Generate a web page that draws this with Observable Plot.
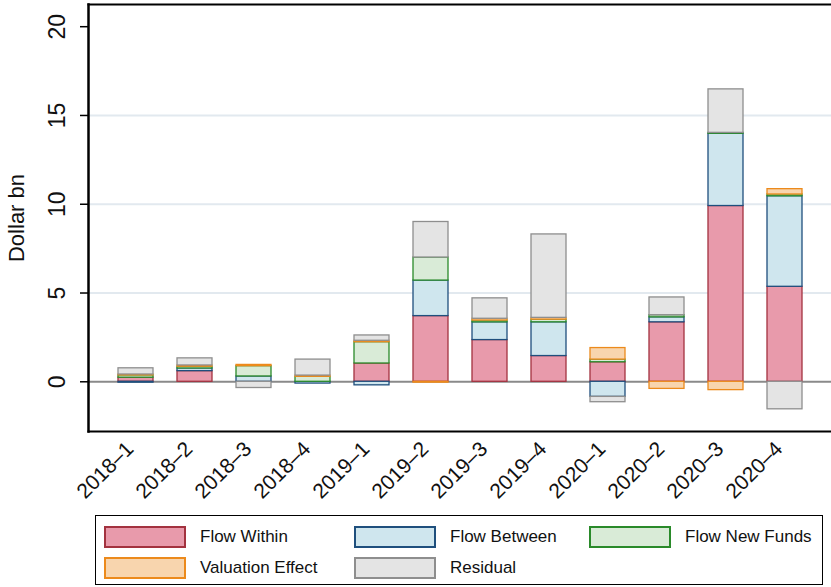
<!DOCTYPE html>
<html>
<head>
<meta charset="utf-8">
<script src="https://cdn.jsdelivr.net/npm/d3@7"></script>
<script src="https://cdn.jsdelivr.net/npm/@observablehq/plot@0.6"></script>
<style>
  body { margin: 0; background: white; font-family: "Liberation Sans", Arial, Helvetica, sans-serif; }
  #wrap { position: relative; width: 831px; height: 587px; }
  #legend { position: absolute; left: 95px; top: 515px; width: 728px; height: 70px; border: 1px solid #000; box-sizing: border-box; }
  .item { position: absolute; display: flex; align-items: center; font-size: 17px; color: #111; }
  .sw { width: 78px; height: 18px; border: 2px solid; margin-right: 14px; }
</style>
</head>
<body>
<div id="wrap"></div>
<script>
const quarters = ["2018–1","2018–2","2018–3","2018–4","2019–1","2019–2","2019–3","2019–4","2020–1","2020–2","2020–3","2020–4"];
const seriesNames = ["Flow Within","Flow Between","Flow New Funds","Valuation Effect","Residual"];
const flowWithin      = [0.23, 0.6, 0, 0, 1.03, 3.7, 2.35, 1.45, 1.1, 3.35, 9.9, 5.35];
const flowBetween     = [-0.05, 0.15, 0.3, -0.1, -0.2, 2.0, 1.0, 1.9, -0.85, 0.28, 4.07, 5.1];
const flowNewFunds    = [0.13, 0.1, 0.58, 0.28, 1.2, 1.3, 0.1, 0.15, 0.15, 0.12, 0.05, 0.1];
const valuationEffect = [0.05, 0.07, 0.07, 0.07, 0.08, -0.05, 0.1, 0.1, 0.65, -0.4, -0.47, 0.3];
const residual        = [0.35, 0.4, -0.35, 0.9, 0.3, 2.0, 1.15, 4.7, -0.3, 1.0, 2.45, -1.55];
const fills   = ["#e89aab", "#cfe6ee", "#d9ebd7", "#f8d5ae", "#e4e4e4"];
const strokes = ["#a3323f", "#1f4f7d", "#2a8a2a", "#ec8a1c", "#8e8e8e"];
const yTicks = [0, 5, 10, 15, 20];
const gridTicks = [5, 10, 15];

const seriesValues = [flowWithin, flowBetween, flowNewFunds, valuationEffect, residual];
const data = [];
quarters.forEach((q, i) => {
  seriesNames.forEach((s, j) => {
    const v = seriesValues[j][i];
    if (v !== 0) data.push({quarter: q, series: s, value: v, k: j});
  });
});

const chart = Plot.plot({
  width: 831,
  height: 507,
  marginLeft: 88,
  marginRight: 0,
  marginTop: 4,
  marginBottom: 76,
  style: {fontFamily: "'Liberation Sans', Arial, Helvetica, sans-serif", fontSize: "19px", background: "white", color: "#111"},
  x: {domain: quarters, paddingInner: 0.41, paddingOuter: 0.48, axis: null},
  y: {domain: [-2.8, 21.25], axis: null},
  color: {type: "identity"},
  marks: [
    Plot.gridY(gridTicks, {stroke: "#e2e9ef", strokeOpacity: 1, strokeWidth: 2}),
    Plot.ruleY([0], {stroke: "#8a8a8a", strokeWidth: 2}),
    Plot.barY(data, Plot.stackY({
      x: "quarter", y: "value", z: "series",
      fill: d => fills[d.k], stroke: d => strokes[d.k], strokeWidth: 1.3
    })),
    Plot.axisY(yTicks, {tickSize: 8, tickFormat: () => "", label: null, stroke: "#000", strokeWidth: 1.5}),
    Plot.text(yTicks, {y: d => d, text: d => String(d), frameAnchor: "left", textAnchor: "middle", lineAnchor: "middle", dx: -31, rotate: -90, fontSize: 23, fill: "#111"}),
    Plot.text(["Dollar bn"], {frameAnchor: "left", textAnchor: "middle", lineAnchor: "middle", dx: -72, rotate: -90, fontSize: 22, fill: "#111"}),
    Plot.axisX({tickSize: 0, tickRotate: -45, fontSize: 21, tickPadding: 14, dx: -6, label: null, fill: "#111"}),
    Plot.frame({anchor: "left", stroke: "#000", strokeWidth: 2.5}),
    Plot.frame({anchor: "bottom", stroke: "#000", strokeWidth: 2}),
    Plot.frame({anchor: "top", stroke: "#000", strokeWidth: 2})
  ]
});
const wrap = document.getElementById("wrap");
wrap.appendChild(chart);

const legend = document.createElement("div");
legend.id = "legend";
const colX = [8, 258, 493];
const rowY = [10, 41];
seriesNames.forEach((name, k) => {
  const col = k % 3, row = Math.floor(k / 3);
  const item = document.createElement("div");
  item.className = "item";
  item.style.left = colX[col] + "px";
  item.style.top = rowY[row] + "px";
  const sw = document.createElement("div");
  sw.className = "sw";
  sw.style.background = fills[k];
  sw.style.borderColor = strokes[k];
  const lab = document.createElement("span");
  lab.textContent = name;
  item.appendChild(sw);
  item.appendChild(lab);
  legend.appendChild(item);
});
wrap.appendChild(legend);
</script>
</body>
</html>
